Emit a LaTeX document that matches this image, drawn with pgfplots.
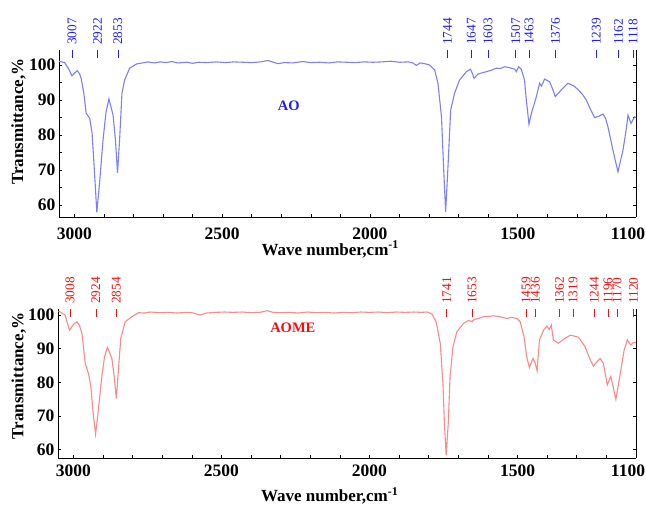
\documentclass[border=0pt]{standalone}
\usepackage{fontspec}
\setmainfont{Liberation Serif}
\usepackage{pgfplots}
\pgfplotsset{compat=1.18}
\definecolor{aoline}{RGB}{125,125,255}
\definecolor{aomeline}{RGB}{255,135,135}
\definecolor{aotext}{RGB}{30,30,255}
\definecolor{aometext}{RGB}{255,10,10}
% #1 colour, #2 position, #3 top, #4 dash bottom, #5 text base, #6 text
\newcommand{\pk}[6]{%
  \draw[#1, line width=0.6pt] (axis cs:#2,#3) -- (axis cs:#2,#4);
  \node[rotate=90, anchor=west, inner sep=0pt, text=#1, font=\fontsize{13.3}{14}\selectfont] at (axis cs:#2,#5) {#6};}
\pgfplotsset{
  irax/.style={
    scale only axis, x dir=reverse, xmin=1100, xmax=3052,
    axis x line*=bottom, axis y line*=box,
    axis line style={-, black, line width=0.7pt},
    xtick={1500,2000,2500,3000}, extra x ticks={1100},
    minor xtick={1200,1300,...,3000},
    tick align=inside, major tick length=3pt, minor tick length=3pt,
    tick style={black, line width=0.6pt},
    tick label style={font=\fontsize{17.5}{20}\selectfont\bfseries},
    /pgf/number format/assume math mode=true,
    /pgf/number format/1000 sep={},
    clip=false,
    ylabel={Transmittance,\%},
    xlabel={Wave number,cm\textsuperscript{-1}},
  }
}
\begin{document}
\begin{tikzpicture}
\useasboundingbox (0,0) rectangle (646pt,505pt);
% ---------------- AO ----------------
\begin{axis}[irax, at={(59pt,288pt)}, anchor=south west,
  width=577pt, height=167pt, ymin=56.6, ymax=104.3,
  ytick={60,70,80,90,100}, minor ytick={65,75,85,95},
  xticklabel style={yshift=-7pt},
  extra x tick style={xticklabel style={xshift=-8pt}},
  every axis x label/.style={at={(axis description cs:0.47,0)}, anchor=center, yshift=-32.5pt, font=\fontsize{17}{20}\selectfont\bfseries},
  every axis y label/.style={at={(axis description cs:-0.070,0.571)}, rotate=90, anchor=center, font=\fontsize{17}{20}\selectfont\bfseries}]
\addplot[aoline, line width=1.1pt] coordinates {
(3052,101.1)(3033,100.7)(3020,99.0)(3008,96.9)(2998,97.8)(2990,98.4)(2983,97.6)(2977,96.2)
(2968,92.0)(2960,86.2)(2948,84.8)(2940,80.5)(2931,68.1)(2924,57.9)(2914,67.1)(2903,78.6)
(2893,86.5)(2883,90.3)(2869,85.7)(2861,78.6)(2854,69.2)(2847,78.6)(2839,91.9)(2830,95.7)
(2813,99.1)(2790,100.3)(2770,100.6)(2751,100.9)(2730,100.6)(2710,100.9)(2690,100.7)(2670,101.0)
(2650,100.6)(2620,100.8)(2600,100.5)(2580,100.8)(2550,100.7)(2520,100.9)(2490,100.7)(2460,100.9)
(2430,100.8)(2400,100.7)(2370,100.9)(2345,101.3)(2330,100.9)(2312,100.4)(2290,100.7)(2260,100.6)
(2228,101.0)(2200,100.7)(2170,100.8)(2140,100.6)(2110,100.9)(2080,100.8)(2050,100.7)(2020,100.9)
(1990,100.8)(1960,100.9)(1930,101.1)(1900,100.8)(1870,100.9)(1855,100.6)(1843,99.9)(1830,100.6)
(1815,100.4)(1798,100.0)(1781,98.6)(1770,94.8)(1758,85.2)(1751,71.0)(1744,58.1)(1736,71.0)
(1727,87.1)(1714,91.9)(1697,95.7)(1674,98.1)(1660,98.8)(1653,97.5)(1648,96.2)(1635,97.4)
(1620,97.8)(1606,98.1)(1590,98.5)(1572,99.1)(1560,99.0)(1544,99.5)(1530,99.3)(1522,99.1)
(1510,98.8)(1505,98.1)(1497,99.5)(1488,98.8)(1477,95.7)(1471,90.0)(1462,83.1)(1454,86.2)
(1437,91.0)(1426,94.8)(1420,94.0)(1409,96.0)(1392,95.2)(1381,92.9)(1373,91.0)(1358,92.4)
(1345,93.6)(1330,94.8)(1310,94.0)(1296,93.0)(1280,91.5)(1268,90.0)(1252,87.0)(1240,85.0)
(1225,85.4)(1212,86.0)(1203,84.8)(1195,82.4)(1178,75.7)(1161,69.5)(1144,75.7)(1135,80.5)
(1127,85.7)(1117,83.3)(1105,85.2)(1100,85.0)};
\node[text=aotext, font=\fontsize{14.5}{16}\selectfont\bfseries] at (axis cs:2275,88.3) {AO};
\pk{aotext}{3008}{104.3}{102.0}{105.7}{3007}
\pk{aotext}{2922}{104.3}{102.0}{105.7}{2922}
\pk{aotext}{2853}{104.3}{102.0}{105.7}{2853}
\pk{aotext}{1738}{104.3}{102.0}{105.7}{1744}
\pk{aotext}{1657}{104.3}{102.0}{105.7}{1647}
\pk{aotext}{1601}{104.3}{102.0}{105.7}{1603}
\pk{aotext}{1507}{104.3}{102.0}{105.7}{1507}
\pk{aotext}{1462}{104.3}{102.0}{105.7}{1463}
\pk{aotext}{1372}{104.3}{102.0}{105.7}{1376}
\pk{aotext}{1234}{104.3}{102.0}{105.7}{1239}
\pk{aotext}{1159}{104.3}{102.0}{105.7}{1162}
\pk{aotext}{1110}{104.3}{102.0}{105.7}{1118}
\end{axis}
% ---------------- AOME ----------------
\begin{axis}[irax, at={(58pt,47pt)}, anchor=south west,
  width=578pt, height=149pt, ymin=57.5, ymax=101.8,
  ytick={60,70,80,90,100},
  xticklabel style={yshift=-3pt},
  extra x tick style={xticklabel style={xshift=-8pt}},
  every axis x label/.style={at={(axis description cs:0.47,0)}, anchor=center, yshift=-38pt, font=\fontsize{17}{20}\selectfont\bfseries},
  every axis y label/.style={at={(axis description cs:-0.068,0.550)}, rotate=90, anchor=center, font=\fontsize{17}{20}\selectfont\bfseries}]
\addplot[aomeline, line width=1.1pt] coordinates {
(3050,101.2)(3028,100.0)(3020,97.5)(3013,95.5)(3000,97.2)(2988,98.0)(2980,97.0)(2971,94.5)
(2960,85.6)(2949,82.6)(2941,78.7)(2932,69.7)(2925,64.6)(2917,70.7)(2904,81.6)(2895,87.5)
(2885,90.4)(2870,87.1)(2862,81.6)(2855,75.2)(2848,83.6)(2840,93.1)(2825,98.0)(2803,99.5)
(2780,100.7)(2760,100.6)(2740,100.9)(2710,100.7)(2680,100.8)(2650,100.6)(2620,100.8)(2600,100.7)
(2572,100.0)(2550,100.6)(2520,100.8)(2490,100.9)(2460,100.8)(2430,100.9)(2400,100.7)(2370,100.8)
(2346,101.3)(2325,100.8)(2300,100.7)(2270,100.8)(2240,100.6)(2210,100.9)(2180,100.7)(2150,100.8)
(2120,100.6)(2090,100.8)(2060,100.7)(2030,100.9)(2000,100.8)(1970,100.9)(1940,100.7)(1910,100.9)
(1880,100.8)(1850,100.9)(1825,100.8)(1806,100.9)(1789,100.3)(1775,98.0)(1761,91.6)(1752,79.7)
(1747,67.8)(1741,58.3)(1734,67.8)(1728,81.6)(1718,90.6)(1705,95.0)(1683,97.5)(1665,98.4)
(1654,98.0)(1646,98.7)(1630,99.0)(1615,99.5)(1595,99.6)(1581,99.8)(1560,99.5)(1536,99.0)
(1520,99.3)(1502,99.0)(1491,98.0)(1478,93.5)(1469,87.6)(1460,84.4)(1448,87.1)(1440,85.6)
(1434,83.4)(1426,92.6)(1412,95.5)(1401,96.7)(1393,95.7)(1386,97.0)(1379,92.6)(1362,91.6)
(1345,92.8)(1322,94.0)(1311,93.8)(1294,93.4)(1272,90.6)(1256,87.0)(1244,84.8)(1230,86.3)
(1221,87.1)(1210,85.6)(1197,79.2)(1185,81.8)(1168,74.9)(1153,82.6)(1140,89.6)(1129,92.6)
(1118,91.1)(1109,91.8)(1100,91.8)};
\node[text=aometext, font=\fontsize{14.5}{16}\selectfont\bfseries] at (axis cs:2259,96.2) {AOME};
\pk{aometext}{3011}{101.8}{99.4}{103.3}{3008}
\pk{aometext}{2924}{101.8}{99.4}{103.3}{2924}
\pk{aometext}{2855}{101.8}{99.4}{103.3}{2854}
\pk{aometext}{1739}{101.8}{99.4}{103.3}{1741}
\pk{aometext}{1654}{101.8}{99.4}{103.3}{1653}
\pk{aometext}{1471}{101.8}{99.4}{103.3}{1459}
\pk{aometext}{1440}{101.8}{99.4}{103.3}{1436}
\pk{aometext}{1358}{101.8}{99.4}{103.3}{1362}
\pk{aometext}{1313}{101.8}{99.4}{103.3}{1319}
\pk{aometext}{1241}{101.8}{99.4}{103.3}{1244}
\pk{aometext}{1194}{101.8}{99.4}{103.3}{1196}
\pk{aometext}{1164}{101.8}{99.4}{103.3}{1170}
\pk{aometext}{1108}{101.8}{99.4}{103.3}{1120}
\end{axis}
\end{tikzpicture}
\end{document}
